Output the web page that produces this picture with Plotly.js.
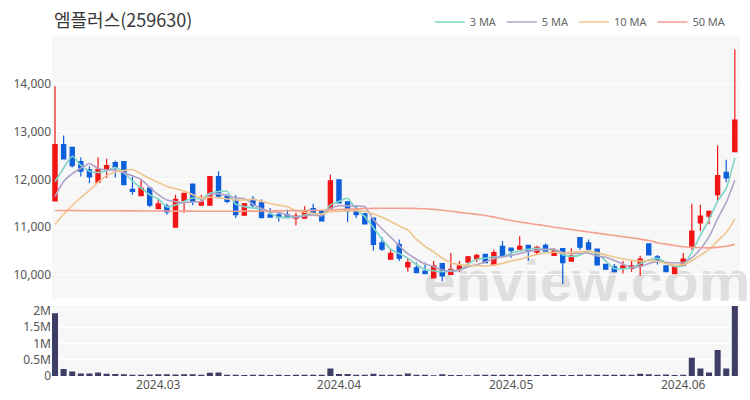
<!DOCTYPE html>
<html><head><meta charset="utf-8">
<script src="https://cdn.plot.ly/plotly-3.0.1.min.js"></script>
<style>html,body{margin:0;padding:0;background:#fff}#chart{width:750px;height:400px}</style>
</head><body><div id="chart"></div>
<script>
const dates = [
 '2024-02-14','2024-02-15','2024-02-16','2024-02-19','2024-02-20','2024-02-21','2024-02-22','2024-02-23','2024-02-26','2024-02-27','2024-02-28','2024-02-29',
 '2024-03-04','2024-03-05','2024-03-06','2024-03-07','2024-03-08','2024-03-11','2024-03-12','2024-03-13','2024-03-14','2024-03-15','2024-03-18','2024-03-19','2024-03-20','2024-03-21','2024-03-22','2024-03-25','2024-03-26','2024-03-27','2024-03-28','2024-03-29',
 '2024-04-01','2024-04-02','2024-04-03','2024-04-04','2024-04-05','2024-04-08','2024-04-09','2024-04-11','2024-04-12','2024-04-15','2024-04-16','2024-04-17','2024-04-18','2024-04-19','2024-04-22','2024-04-23','2024-04-24','2024-04-25','2024-04-26','2024-04-29','2024-04-30',
 '2024-05-02','2024-05-03','2024-05-07','2024-05-08','2024-05-09','2024-05-10','2024-05-13','2024-05-14','2024-05-16','2024-05-17','2024-05-20','2024-05-21','2024-05-22','2024-05-23','2024-05-24','2024-05-27','2024-05-28','2024-05-29','2024-05-30','2024-05-31',
 '2024-06-03','2024-06-04','2024-06-05','2024-06-07','2024-06-10','2024-06-11','2024-06-12'
];
const opens = [11550,12730,12670,12370,12200,11940,12220,12350,12370,11790,11660,11820,11390,11440,11000,11560,11900,11460,11460,12060,
 11650,11540,11250,11580,11510,11260,11260,11260,11190,11190,11390,11330,11400,11990,11530,11350,11280,11190,10670,10330,
 10640,10170,10150,10080,9940,10240,10010,10120,10270,10330,10430,10210,10600,10560,10540,10620,10480,10620,10410,10550,
 10290,10780,10670,10540,10220,10170,10140,10140,10190,10650,10380,10190,10030,10200,10600,11090,11230,11680,12150,12580];
const highs = [13950,12920,12680,12460,12270,12460,12430,12390,12380,12060,11990,11830,11600,11490,11680,11720,11910,11680,12070,12170,
 11690,11670,11510,11650,11580,11400,11310,11370,11300,11440,11490,11340,12100,11990,11530,11440,11300,11200,10790,10540,
 10740,10350,10260,10260,10290,10250,10460,10290,10390,10440,10440,10530,10710,10570,10810,10630,10610,10660,10560,10560,
 10560,10780,10740,10540,10230,10230,10290,10290,10400,10660,10420,10200,10170,10460,11490,11470,11350,12710,12410,14720];
const lows = [11540,12420,12250,12060,11920,11930,12030,12040,11880,11680,11660,11420,11380,11260,10990,11300,11460,11450,11450,11600,
 11500,11190,11240,11390,11190,11200,11120,11200,11040,11190,11290,11120,11400,11500,11110,11190,11060,10510,10500,10320,
 10290,10070,10040,10020,9940,9870,10000,10060,10260,10270,10250,10200,10390,10360,10530,10300,10420,10500,10400,9810,
 10280,10520,10530,10200,10110,10060,10030,10070,9980,10410,10220,10060,10020,10190,10530,10920,11060,11560,11940,12580];
const closes = [12730,12430,12290,12170,12050,12210,12290,12250,11890,11750,11820,11460,11490,11320,11580,11710,11540,11530,12060,11650,
 11540,11260,11490,11460,11200,11210,11210,11200,11230,11330,11300,11130,11970,11510,11330,11260,11070,10640,10540,10450,
 10350,10260,10050,10030,10190,9980,10120,10190,10380,10410,10260,10470,10400,10510,10600,10500,10580,10500,10510,10260,
 10400,10580,10540,10210,10120,10070,10190,10190,10330,10420,10290,10070,10170,10330,10920,11230,11330,12080,12030,13240];
const volumes = [1930000,215000,140000,75000,75000,110000,70000,60000,50000,40000,40000,45000,50000,50000,45000,50000,50000,35000,100000,110000,
 35000,35000,30000,35000,35000,30000,35000,30000,35000,35000,35000,35000,230000,65000,60000,35000,35000,70000,35000,40000,
 35000,75000,40000,35000,20000,55000,30000,30000,25000,35000,40000,40000,35000,35000,35000,35000,30000,35000,35000,30000,
 30000,40000,35000,35000,35000,40000,35000,35000,70000,55000,35000,45000,30000,35000,560000,230000,110000,800000,230000,2150000];
// closes before the first visible session (needed for the short moving averages)
const priorCloses = [10320,10450,10500,10550,10555,10865,11486,11596,11543];
// 50-day moving average
const ma50 = [11350,11350,11348,11346,11345,11345,11344,11343,11342,11341,
 11340,11340,11339,11338,11336,11335,11335,11334,11334,11333,
 11333,11334,11335,11336,11338,11340,11342,11345,11347,11350,
 11352,11355,11362,11370,11378,11384,11390,11394,11396,11397,
 11396,11394,11391,11385,11372,11355,11335,11310,11290,11268,
 11244,11210,11175,11140,11110,11082,11055,11030,11000,10975,
 10950,10925,10900,10875,10850,10825,10800,10778,10750,10720,
 10675,10645,10615,10590,10578,10570,10568,10578,10600,10640];
const tickDates = ['2024-03-04','2024-04-02','2024-05-02','2024-06-03'];
const tickLabels = ['2024.03','2024.04','2024.05','2024.06'];
const priceTicks = [10000,11000,12000,13000,14000];
const volTicks = [0,500000,1000000,1500000,2000000];
const volTickLabels = ['0','0.5M','1M','1.5M','2M'];
const titleText = '엠플러스(259630)';
const watermark = 'enview.com';

function movingAverage(n){
  const all = priorCloses.concat(closes);
  return closes.map((c,i)=>{
    const end = priorCloses.length + i;
    let s = 0;
    for (let k = end-n+1; k <= end; k++) s += all[k];
    return s/n;
  });
}

const maLine = (name, y, color) => ({
  type:'scatter', mode:'lines', name:name, x:dates, y:y, xaxis:'x', yaxis:'y',
  line:{color:color, width:1.6, shape:'spline', smoothing:0.6}, hoverinfo:'skip'
});

const traces = [
  {type:'bar', x:dates, y:volumes, xaxis:'x', yaxis:'y2', marker:{color:'#3d3d66'}, showlegend:false, hoverinfo:'skip'},
  {type:'candlestick', x:dates, open:opens, high:highs, low:lows, close:closes, xaxis:'x', yaxis:'y',
   increasing:{line:{color:'#f21515', width:1.2}, fillcolor:'#f21515'},
   decreasing:{line:{color:'#0d5fdb', width:1.2}, fillcolor:'#0d5fdb'},
   whiskerwidth:0, showlegend:false, hoverinfo:'skip'},
  maLine('3 MA', movingAverage(3), '#7fd5c6'),
  maLine('5 MA', movingAverage(5), '#b2a2c6'),
  maLine('10 MA', movingAverage(10), '#f0c48c'),
  maLine('50 MA', ma50, '#f4a08f')
];

const tickFont = {family:'Noto Sans, Roboto, sans-serif', size:12, color:'#555'};
const layout = {
  width:750, height:400,
  margin:{l:52, r:10, t:33, b:24},
  paper_bgcolor:'#ffffff', plot_bgcolor:'#f7f7f7',
  title:{text:titleText, xref:'container', x:54/750, xanchor:'left', yref:'container', y:0.948, yanchor:'middle',
         font:{family:'Noto Sans CJK KR, Noto Sans, sans-serif', size:18, color:'#383838'}},
  showlegend:true,
  legend:{orientation:'h', xref:'paper', x:0.988, xanchor:'right', yref:'container', y:0.945, yanchor:'middle',
          font:{family:'Noto Sans, Roboto, sans-serif', size:11, color:'#666'}, itemwidth:30, bgcolor:'rgba(0,0,0,0)', traceorder:'normal'},
  bargap:0.3,
  xaxis:{type:'category', range:[-0.35, 79.6], anchor:'y2', tickvals:tickDates, ticktext:tickLabels,
         showgrid:false, zeroline:false, showline:false, ticks:'', tickfont:tickFont, rangeslider:{visible:false}, fixedrange:true},
  yaxis:{domain:[0.23,1], range:[9520,14990], tickvals:priceTicks, tickformat:',', gridcolor:'#ffffff', gridwidth:1,
         zeroline:false, showline:false, ticks:'', tickfont:tickFont, fixedrange:true},
  yaxis2:{domain:[0,0.207], range:[0,2160000], tickvals:volTicks, ticktext:volTickLabels, gridcolor:'#ffffff', gridwidth:1,
          zeroline:false, showline:false, ticks:'', tickfont:tickFont, fixedrange:true},
  shapes:[{type:'rect', xref:'paper', yref:'paper', x0:0.56, x1:0.995, y0:0.22, y1:0.37, layer:'below',
           line:{width:0}, fillcolor:'rgba(0,0,0,0)',
           label:{text:'<b>'+watermark+'</b>', textposition:'middle center',
                  font:{family:'Liberation Sans, Arial, sans-serif', size:58, color:'rgba(205,205,205,0.6)'}}}]
};

Plotly.newPlot('chart', traces, layout, {displayModeBar:false, staticPlot:true});
</script>
</body></html>
